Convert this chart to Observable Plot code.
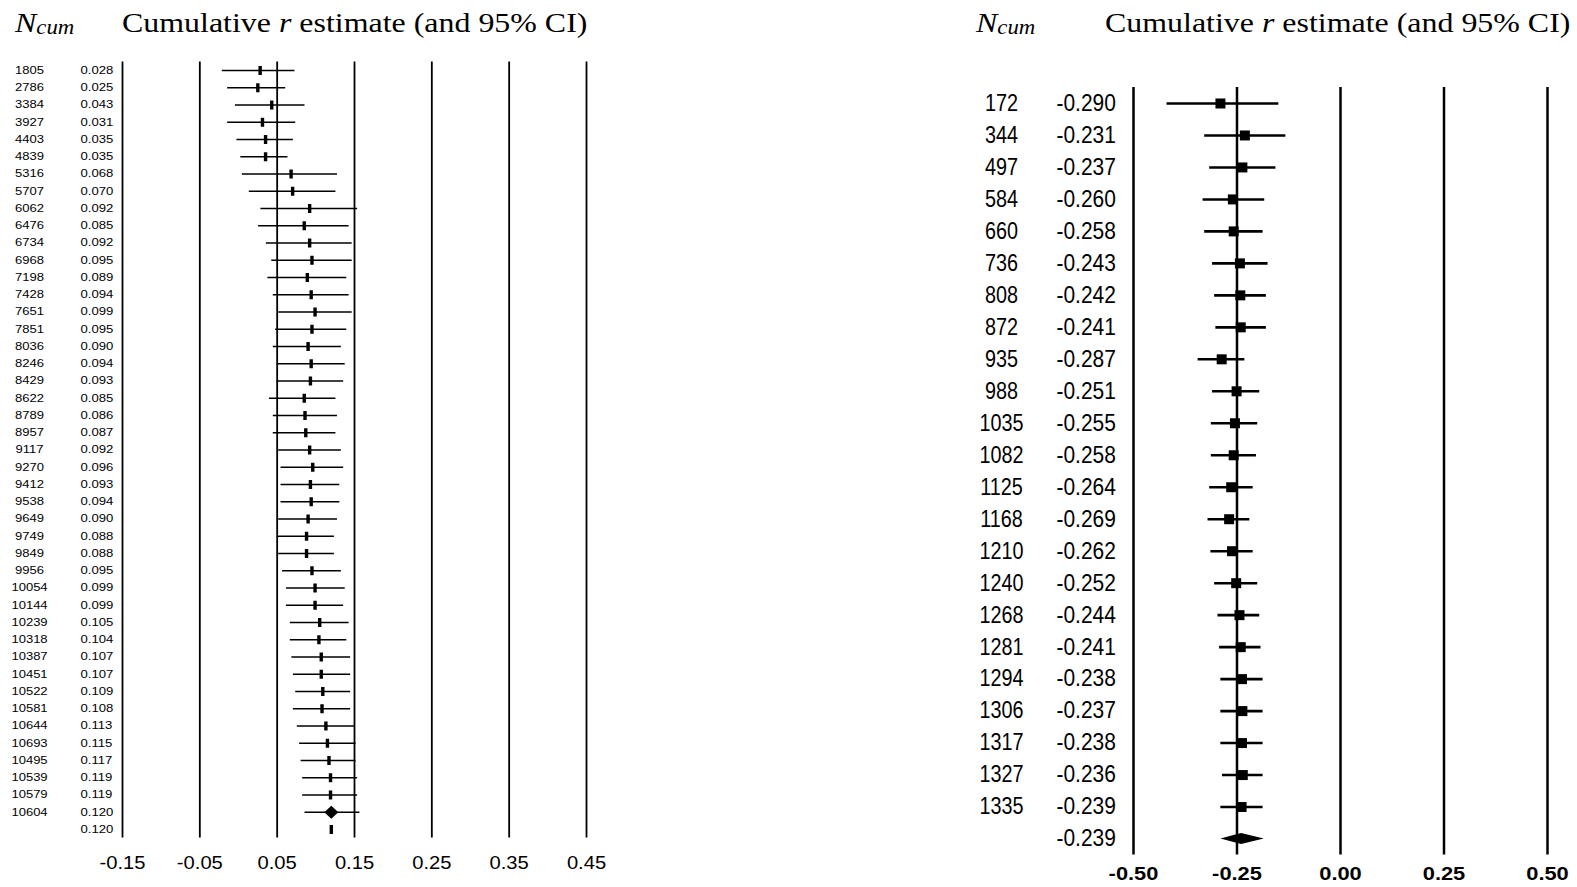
<!DOCTYPE html>
<html>
<head>
<meta charset="utf-8">
<script src="https://cdn.jsdelivr.net/npm/d3@7"></script>
<script src="https://cdn.jsdelivr.net/npm/@observablehq/plot@0.6"></script>
<style>
  html, body { margin: 0; padding: 0; background: #fff; }
  body { width: 1577px; height: 887px; position: relative; overflow: hidden; }
  .panel { position: absolute; top: 0; }
  .ttl { position: absolute; top: 9px; font-family: "Liberation Serif", "Times New Roman", serif; font-size: 28px; line-height: 28px; white-space: nowrap; color: #000; transform: scaleX(1.14); transform-origin: 0 50%; }
  .ttl i { font-style: italic; }
  .sub { font-size: 20px; position: relative; top: 2px; font-style: italic; }
</style>
</head>
<body>
<div id="left" class="panel" style="left:0"></div>
<div id="right" class="panel" style="left:950px"></div>
<div class="ttl" style="left:15px"><i>N</i><span class="sub">cum</span></div>
<div class="ttl" style="left:122px">Cumulative <i>r</i> estimate (and 95% CI)</div>
<div class="ttl" style="left:976px"><i>N</i><span class="sub">cum</span></div>
<div class="ttl" style="left:1105px">Cumulative <i>r</i> estimate (and 95% CI)</div>
<script>
// ---------- Left panel data ----------
const leftN = [1805, 2786, 3384, 3927, 4403, 4839, 5316, 5707, 6062, 6476, 6734, 6968, 7198, 7428, 7651, 7851, 8036, 8246, 8429, 8622, 8789, 8957, 9117, 9270, 9412, 9538, 9649, 9749, 9849, 9956, 10054, 10144, 10239, 10318, 10387, 10451, 10522, 10581, 10644, 10693, 10495, 10539, 10579, 10604];
const leftR = [0.028, 0.025, 0.043, 0.031, 0.035, 0.035, 0.068, 0.070, 0.092, 0.085, 0.092, 0.095, 0.089, 0.094, 0.099, 0.095, 0.090, 0.094, 0.093, 0.085, 0.086, 0.087, 0.092, 0.096, 0.093, 0.094, 0.090, 0.088, 0.088, 0.095, 0.099, 0.099, 0.105, 0.104, 0.107, 0.107, 0.109, 0.108, 0.113, 0.115, 0.117, 0.119, 0.119, 0.120];
const leftLo = [-0.021, -0.014, -0.004, -0.014, -0.002, 0.003, 0.005, 0.014, 0.029, 0.026, 0.036, 0.043, 0.038, 0.045, 0.052, 0.048, 0.045, 0.050, 0.050, 0.040, 0.045, 0.045, 0.052, 0.055, 0.055, 0.055, 0.052, 0.050, 0.052, 0.057, 0.062, 0.062, 0.067, 0.067, 0.069, 0.071, 0.074, 0.071, 0.076, 0.079, 0.081, 0.083, 0.083, 0.086];
const leftHi = [0.073, 0.061, 0.086, 0.074, 0.071, 0.064, 0.128, 0.126, 0.154, 0.143, 0.147, 0.147, 0.140, 0.143, 0.147, 0.140, 0.133, 0.138, 0.136, 0.126, 0.128, 0.126, 0.133, 0.136, 0.131, 0.131, 0.128, 0.124, 0.124, 0.133, 0.138, 0.136, 0.143, 0.140, 0.145, 0.145, 0.145, 0.145, 0.150, 0.152, 0.152, 0.154, 0.154, 0.157];
const leftPooled = 0.120;
const leftTicks = [-0.15, -0.05, 0.05, 0.15, 0.25, 0.35, 0.45];

// ---------- Right panel data ----------
const rightN = [172, 344, 497, 584, 660, 736, 808, 872, 935, 988, 1035, 1082, 1125, 1168, 1210, 1240, 1268, 1281, 1294, 1306, 1317, 1327, 1335];
const rightR = [-0.290, -0.231, -0.237, -0.260, -0.258, -0.243, -0.242, -0.241, -0.287, -0.251, -0.255, -0.258, -0.264, -0.269, -0.262, -0.252, -0.244, -0.241, -0.238, -0.237, -0.238, -0.236, -0.239];
const rightLo = [-0.419, -0.328, -0.316, -0.332, -0.328, -0.309, -0.304, -0.301, -0.344, -0.309, -0.312, -0.312, -0.316, -0.320, -0.313, -0.304, -0.296, -0.292, -0.289, -0.289, -0.289, -0.285, -0.289];
const rightHi = [-0.149, -0.132, -0.156, -0.183, -0.187, -0.175, -0.179, -0.179, -0.231, -0.195, -0.200, -0.203, -0.211, -0.219, -0.211, -0.200, -0.195, -0.192, -0.187, -0.187, -0.187, -0.187, -0.187];
const rightPooled = -0.239;
const rightPooledLo = -0.289;
const rightPooledHi = -0.184;
const rightTicks = [-0.50, -0.25, 0.00, 0.25, 0.50];

// ---------- custom symbols ----------
const barSym = { draw(ctx) { ctx.rect(-1.7, -4.5, 3.4, 9); } };
const diamondSym = { draw(ctx) { ctx.moveTo(-7, 0); ctx.lineTo(0, -6.5); ctx.lineTo(7, 0); ctx.lineTo(0, 6.5); ctx.closePath(); } };
const squareSym = { draw(ctx) { ctx.rect(-5, -5, 10, 10); } };

// horizontal stretch of text glyphs (the reference image is non-uniformly scaled)
function stretchGroup(g, factor) {
  if (!g) return;
  g.querySelectorAll("text").forEach(t => {
    const L = t.getComputedTextLength();
    if (L > 0) {
      t.setAttribute("textLength", L * factor);
      t.setAttribute("lengthAdjust", "spacingAndGlyphs");
    }
  });
}
function textGroups(root) { return root.querySelectorAll('g[aria-label="text"]'); }
function tickGroup(root) { return root.querySelector('g[aria-label="x-axis tick label"]'); }

// ---------- Left panel ----------
const leftRows = leftN.map((n, i) => ({ i, n: String(n), r: leftR[i], lo: leftLo[i], hi: leftHi[i] }));
const nL = leftRows.length;
const leftAll = [...leftRows, { i: nL, n: "", r: leftPooled }];
const fmt3 = v => v.toFixed(3);

const leftPlot = Plot.plot({
  width: 620,
  height: 887,
  marginLeft: 122,
  marginRight: 34,
  marginTop: 61.4,
  marginBottom: 49.4,
  style: { fontFamily: "'Liberation Sans', Arial, sans-serif", background: "white", color: "black" },
  x: { domain: [-0.15, 0.45] },
  y: { domain: [nL + 0.5, -0.5], axis: null },
  marks: [
    Plot.ruleX(leftTicks, { stroke: "black", strokeWidth: 1.8 }),
    Plot.ruleY(leftRows, { y: "i", x1: "lo", x2: "hi", stroke: "black", strokeWidth: 1.5 }),
    Plot.dot(leftAll.filter(d => d.i !== nL - 1), { x: "r", y: "i", symbol: barSym, fill: "black", stroke: "none" }),
    Plot.dot(leftAll.filter(d => d.i === nL - 1), { x: "r", y: "i", symbol: diamondSym, fill: "black", stroke: "none" }),
    Plot.text(leftAll, { y: "i", text: "n", frameAnchor: "left", dx: -93, textAnchor: "middle", fontSize: 10.5, fill: "black" }),
    Plot.text(leftAll, { y: "i", text: d => fmt3(d.r), frameAnchor: "left", dx: -42, textAnchor: "start", fontSize: 10.5, fill: "black" }),
    Plot.axisX(leftTicks, { tickSize: 0, tickPadding: 18, fontSize: 18, label: null, tickFormat: d => d.toFixed(2), fill: "black" })
  ]
});
document.getElementById("left").appendChild(leftPlot);
{
  const tg = textGroups(leftPlot);
  stretchGroup(tg[0], 1.24);
  stretchGroup(tg[1], 1.25);
  stretchGroup(tickGroup(leftPlot), 1.12);
}

// ---------- Right panel ----------
const rightRows = rightN.map((n, i) => ({ i, n: String(n), r: rightR[i], lo: rightLo[i], hi: rightHi[i] }));
const nR = rightRows.length;
const rightAll = [...rightRows, { i: nR, n: "", r: rightPooled }];
const h = 0.17; // half-height of summary diamond in row units
const pooledShape = [
  { y: nR - h, x1: rightPooled, x2: rightPooled },
  { y: nR, x1: rightPooledLo, x2: rightPooledHi },
  { y: nR + h, x1: rightPooled, x2: rightPooled }
];

const rightPlot = Plot.plot({
  width: 627,
  height: 887,
  marginLeft: 183,
  marginRight: 30,
  marginTop: 87,
  marginBottom: 32.5,
  style: { fontFamily: "'Liberation Sans', Arial, sans-serif", background: "white", color: "black" },
  x: { domain: [-0.5, 0.5] },
  y: { domain: [nR + 0.5, -0.5], axis: null },
  marks: [
    Plot.ruleX(rightTicks, { stroke: "black", strokeWidth: 2.5 }),
    Plot.ruleY(rightRows, { y: "i", x1: "lo", x2: "hi", stroke: "black", strokeWidth: 2.6 }),
    Plot.dot(rightRows, { x: "r", y: "i", symbol: squareSym, fill: "black", stroke: "none" }),
    Plot.areaX(pooledShape, { y: "y", x1: "x1", x2: "x2", fill: "black" }),
    Plot.text(rightAll, { y: "i", text: "n", frameAnchor: "left", dx: -132, textAnchor: "middle", fontSize: 23, fill: "black" }),
    Plot.text(rightAll, { y: "i", text: d => fmt3(d.r), frameAnchor: "left", dx: -77, textAnchor: "start", fontSize: 23, fill: "black" }),
    Plot.axisX(rightTicks, { tickSize: 0, tickPadding: 11.5, fontSize: 19, fontWeight: "bold", label: null, tickFormat: d => d.toFixed(2), fill: "black" })
  ]
});
document.getElementById("right").appendChild(rightPlot);
{
  const tg = textGroups(rightPlot);
  stretchGroup(tg[0], 0.86);
  stretchGroup(tg[1], 0.91);
  stretchGroup(tickGroup(rightPlot), 1.15);
}
</script>
</body>
</html>
